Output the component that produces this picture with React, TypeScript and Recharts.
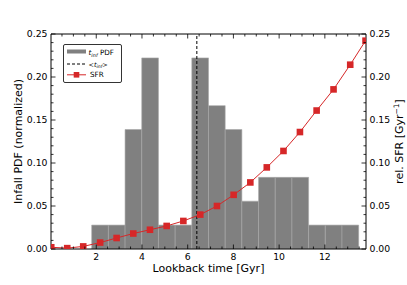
import { ComposedChart, Line, XAxis, YAxis, ReferenceArea, ReferenceLine, Legend } from 'recharts'

// histogram of infall times (bin edges in Gyr, normalized heights)
const binEdges = [1.8, 2.53, 3.26, 3.99, 4.72, 5.45, 6.18, 6.91, 7.64, 8.37, 9.1, 9.83, 10.56, 11.29, 12.02, 12.75, 13.48]
const pdfValues = [0.0278, 0.0278, 0.1389, 0.2222, 0.0278, 0.0278, 0.2222, 0.1667, 0.1389, 0.0556, 0.0833, 0.0833, 0.0833, 0.0278, 0.0278, 0.0278]

// relative star formation rate
const sfrTimes = [0.03, 0.73, 1.43, 2.17, 2.89, 3.62, 4.35, 5.08, 5.81, 6.55, 7.28, 8.01, 8.74, 9.46, 10.19, 10.91, 11.64, 12.38, 13.11, 13.78]
const sfrValues = [0.002, 0.001, 0.003, 0.0075, 0.0128, 0.018, 0.0224, 0.0268, 0.0326, 0.04, 0.05, 0.063, 0.0774, 0.0949, 0.114, 0.136, 0.161, 0.1856, 0.2143, 0.2422]

const meanInfall = 6.4

const xLimits: [number, number] = [0.02, 13.8]
const yLimits: [number, number] = [0, 0.25]
const xMajorTicks = [2, 4, 6, 8, 10, 12]
const yMajorTicks = [0, 0.05, 0.1, 0.15, 0.2, 0.25]

const xTicks: number[] = []
for (let i = 1; i * 0.5 < xLimits[1]; i++) xTicks.push(i * 0.5)
const yTicks: number[] = []
for (let i = 0; i <= 25; i++) yTicks.push(i / 100)

const sfrData = sfrTimes.map((t, i) => ({ t, sfr: sfrValues[i] }))

const FONT = '"DejaVu Sans", sans-serif'
const RED = '#d62728'
const GRAY = '#808080'

type Side = 'bottom' | 'top' | 'left' | 'right'

function axisTick(side: Side, majors: number[], showLabels: boolean, fmt: (v: number) => string) {
  return (props: any) => {
    const { x, y, payload } = props
    const v = payload.value as number
    const major = majors.some(m => Math.abs(m - v) < 1e-6)
    const len = major ? 4.5 : 2.5
    let line: number[]
    let label = null
    if (side === 'bottom') {
      line = [x, y, x, y - len]
      if (major && showLabels) label = <text x={x} y={y + 11} textAnchor="middle">{fmt(v)}</text>
    } else if (side === 'top') {
      line = [x, y, x, y + len]
    } else if (side === 'left') {
      line = [x, y, x + len, y]
      if (major && showLabels) label = <text x={x - 3.5} y={y + 3.4} textAnchor="end">{fmt(v)}</text>
    } else {
      line = [x, y, x - len, y]
      if (major && showLabels) label = <text x={x + 3.5} y={y + 3.4} textAnchor="start">{fmt(v)}</text>
    }
    return (
      <g>
        <line x1={line[0]} y1={line[1]} x2={line[2]} y2={line[3]} stroke="#000" strokeWidth={0.8} />
        {label && <g fontFamily={FONT} fontSize={9.3} fill="#000">{label}</g>}
      </g>
    )
  }
}

function SquareDot(props: any) {
  const { cx, cy } = props
  if (cx == null || cy == null) return null
  return <rect x={cx - 3.3} y={cy - 3.3} width={6.6} height={6.6} fill={RED} />
}

function LegendBox() {
  return (
    <svg width={59} height={39} style={{ display: 'block', fontFamily: FONT }}>
      <rect x={0.5} y={0.5} width={58} height={38} rx={1.5} fill="#fff" stroke="#000" strokeWidth={0.8} />
      <rect x={4} y={5.5} width={19} height={4} fill={GRAY} />
      <text x={25.5} y={11} fontSize={7.2}>
        <tspan fontStyle="italic">t</tspan>
        <tspan fontStyle="italic" fontSize={5} dy={1.5}>inf</tspan>
        <tspan dy={-1.5}> PDF</tspan>
      </text>
      <line x1={4} y1={20} x2={23} y2={20} stroke="#000" strokeWidth={1} strokeDasharray="3 2" />
      <text x={25.5} y={22.5} fontSize={6.5}>
        {'<'}
        <tspan fontStyle="italic">t</tspan>
        <tspan fontStyle="italic" fontSize={4.6} dy={1.3}>inf</tspan>
        <tspan dy={-1.3}>{'>'}</tspan>
      </text>
      <line x1={4} y1={30.8} x2={23} y2={30.8} stroke={RED} strokeWidth={1} />
      <rect x={10.7} y={28} width={5.6} height={5.6} fill={RED} />
      <text x={27} y={33.3} fontSize={7.2}>SFR</text>
    </svg>
  )
}

export default function App() {
  return (
    <div style={{ position: 'absolute', left: 0, top: 0, background: '#fff' }}>
      <ComposedChart width={407} height={285} data={sfrData} margin={{ top: 4, right: 0, bottom: 0, left: 0 }}>
        <XAxis
          dataKey="t"
          type="number"
          domain={xLimits}
          allowDataOverflow
          ticks={xTicks}
          interval={0}
          height={36}
          tickSize={0}
          tickMargin={0}
          tickLine={false}
          axisLine={{ stroke: '#000', strokeWidth: 1 }}
          tick={axisTick('bottom', xMajorTicks, true, v => String(v))}
          label={{
            content: (p: any) => (
              <text x={p.viewBox.x + p.viewBox.width / 2} y={p.viewBox.y + 22.5} textAnchor="middle" fontFamily={FONT} fontSize={11} fill="#000">
                Lookback time [Gyr]
              </text>
            ),
          }}
        />
        <XAxis
          xAxisId="top"
          orientation="top"
          dataKey="t"
          type="number"
          domain={xLimits}
          allowDataOverflow
          ticks={xTicks}
          interval={0}
          height={30}
          tickSize={0}
          tickMargin={0}
          tickLine={false}
          axisLine={{ stroke: '#000', strokeWidth: 1 }}
          tick={axisTick('top', xMajorTicks, false, v => String(v))}
        />
        <YAxis
          yAxisId="left"
          type="number"
          domain={yLimits}
          allowDataOverflow
          ticks={yTicks}
          interval={0}
          width={51}
          tickSize={0}
          tickMargin={0}
          tickLine={false}
          axisLine={{ stroke: '#000', strokeWidth: 1 }}
          tick={axisTick('left', yMajorTicks, true, v => v.toFixed(2))}
          label={{
            content: (p: any) => {
              const cx = p.viewBox.x + 22
              const cy = p.viewBox.y + p.viewBox.height / 2
              return (
                <text x={cx} y={cy} transform={`rotate(-90, ${cx}, ${cy})`} textAnchor="middle" fontFamily={FONT} fontSize={11} fill="#000">
                  Infall PDF (normalized)
                </text>
              )
            },
          }}
        />
        <YAxis
          yAxisId="right"
          orientation="right"
          type="number"
          domain={yLimits}
          allowDataOverflow
          ticks={yTicks}
          interval={0}
          width={41}
          tickSize={0}
          tickMargin={0}
          tickLine={false}
          axisLine={{ stroke: '#000', strokeWidth: 1 }}
          tick={axisTick('right', yMajorTicks, true, v => v.toFixed(2))}
          label={{
            content: (p: any) => {
              const cx = p.viewBox.x + 37
              const cy = p.viewBox.y + p.viewBox.height / 2
              return (
                <text x={cx} y={cy} transform={`rotate(-90, ${cx}, ${cy})`} textAnchor="middle" fontFamily={FONT} fontSize={11} fill="#000">
                  rel. SFR [Gyr
                  <tspan dy={-4} fontSize={7.5}>−1</tspan>
                  <tspan dy={4}>]</tspan>
                </text>
              )
            },
          }}
        />
        {pdfValues.map((v, i) => (
          <ReferenceArea
            key={i}
            yAxisId="left"
            x1={binEdges[i]}
            x2={binEdges[i + 1]}
            y1={0}
            y2={v}
            fill={GRAY}
            fillOpacity={1}
            stroke="#a8a8a8"
            strokeWidth={0.6}
            ifOverflow="hidden"
          />
        ))}
        <ReferenceLine yAxisId="left" x={meanInfall} stroke="#000" strokeWidth={1} strokeDasharray="3 2" />
        <Line
          yAxisId="right"
          dataKey="sfr"
          type="linear"
          stroke={RED}
          strokeWidth={1}
          dot={<SquareDot />}
          activeDot={false}
          isAnimationActive={false}
        />
        <Legend
          layout="vertical"
          align="center"
          verticalAlign="middle"
          content={() => <LegendBox />}
          wrapperStyle={{ left: 63, top: 44, width: 'auto', height: 'auto' }}
        />
      </ComposedChart>
    </div>
  )
}
